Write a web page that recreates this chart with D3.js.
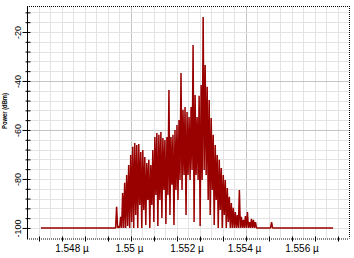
<!DOCTYPE html>
<html><head><meta charset="utf-8">
<script src="https://cdn.jsdelivr.net/npm/d3@7"></script>
<style>
html,body{margin:0;padding:0;background:#fff;}
text{font-family:"Liberation Sans",Arial,sans-serif;}
</style></head>
<body><svg id="c" width="354" height="258"></svg>
<script>
// ---- data ----
const xDomain = [1.546383, 1.557583];        // wavelength (µm)
const yDomain = [-104.3, -9.4];              // power (dBm)
const xLabelValues = [1.548, 1.550, 1.552, 1.554, 1.556];
const xLabels = ["1.548 µ", "1.55 µ", "1.552 µ", "1.554 µ", "1.556 µ"];
const yLabelValues = [-20, -40, -60, -80, -100];
const yLabels = ["-20", "-40", "-60", "-80", "-100"];
const yTitle = "Power (dBm)";
const baselineStart = 1.54687, baselineEnd = 1.55703, baselineDb = -100;
const lambdaStart = 1.5495, lambdaStep = 0.00007;
const peakDb = [
 -91.4,-99.2,-95.5,-85.7,-81.6,-78.4,-74.3,-70.2,-66.9,-65.3,
 -66.1,-65.7,-69.0,-68.2,-71.0,-73.5,-72.2,-74.3,-68.2,-62.9,
 -61.2,-62.0,-60.8,-63.3,-64.1,-62.9,-43.7,-62.9,-62.0,-60.0,
 -58.0,-55.9,-36.7,-51.8,-50.6,-52.7,-54.7,-50.6,-25.3,-45.7,
 -54.7,-46.0,-41.6,-13.9,-33.5,-42.4,-47.8,-55.1,-62.0,-66.1,
 -70.2,-72.2,-75.5,-78.4,-80.4,-83.7,-87.3,-89.8,-91.8,-93.5,
 -94.7,-84.5,-95.5,-96.7,-95.1,-93.5,-97.6,-96.3,-96.7,-97.6,
 -100,-100,-100,-100,-100,-100,-100,-97.6,-100,-100];
const troughDb = [
 -100,-100,-100,-100,-100,-99.2,-100,-97.6,-100,-94.7,
 -100,-90.6,-100,-92.7,-98.8,-88.6,-100,-90.6,-97.6,-86.5,
 -99.2,-88.6,-95.9,-84.5,-98.4,-86.5,-94.7,-82.4,-98.8,-84.5,
 -88.6,-80.4,-84.5,-78.4,-94.7,-78.4,-80.4,-76.3,-97.6,-78.4,
 -80.4,-99.2,-80.4,-76.3,-78.4,-88.6,-94.7,-84.5,-98.8,-88.6,
 -100,-92.7,-100,-94.7,-100,-97.6,-100,-100,-100,-100,
 -100,-100,-100,-100,-100,-100,-100,-100,-100,-100,
 -100,-100,-100,-100,-100,-100,-100,-100,-100,-100];
const gridStepX = 0.0004, tickStepX = 0.0008, gridStepY = 4;
const darkGridX = [1.550, 1.554];
const darkGridY = [-40, -60];

// ---- layout ----
const L = 27, R = 349, T = 6, B = 238.5;
const svg = d3.select("#c");
const x = d3.scaleLinear().domain(xDomain).range([L, R]);
const y = d3.scaleLinear().domain(yDomain).range([B, T]);

// grid
const gx = d3.range(Math.ceil(xDomain[0]/gridStepX), Math.floor(xDomain[1]/gridStepX)+1).map(k => k*gridStepX)
  .filter(v => x(v) > L + 1 && x(v) < R - 1);
const gy = d3.range(-100, -9, gridStepY);
const isDarkX = v => darkGridX.some(d => Math.abs(d - v) < 1e-7);
const grid = svg.append("g");
grid.selectAll("line.gx").data(gx).join("line")
  .attr("x1", d => Math.round(x(d)) + 0.5).attr("x2", d => Math.round(x(d)) + 0.5)
  .attr("y1", T).attr("y2", B)
  .attr("stroke", d => isDarkX(d) ? "#c4c4c4" : "#e3e3e3").attr("stroke-width", 1);
grid.selectAll("line.gy").data(gy).join("line")
  .attr("y1", d => Math.round(y(d)) + 0.5).attr("y2", d => Math.round(y(d)) + 0.5)
  .attr("x1", L).attr("x2", R)
  .attr("stroke", d => darkGridY.includes(d) ? "#c4c4c4" : "#e3e3e3").attr("stroke-width", 1);

// spectrum
const pts = [[baselineStart, baselineDb], [lambdaStart - lambdaStep/2, baselineDb]];
peakDb.forEach((p, i) => {
  const l = lambdaStart + i*lambdaStep;
  pts.push([l, p]);
  pts.push([l + lambdaStep/2, troughDb[i]]);
});
pts.push([baselineEnd, baselineDb]);
svg.append("path")
  .attr("d", d3.line().x(d => x(d[0])).y(d => y(d[1]))(pts))
  .attr("fill", "none").attr("stroke", "#990000").attr("stroke-width", 1.5)
  .attr("stroke-linejoin", "bevel");

// frame: top / right dotted
svg.append("line").attr("x1", L).attr("x2", R).attr("y1", T + 0.5).attr("y2", T + 0.5)
  .attr("stroke", "#000").attr("stroke-dasharray", "1,1");
svg.append("line").attr("x1", R + 0.5).attr("x2", R + 0.5).attr("y1", T).attr("y2", B)
  .attr("stroke", "#000").attr("stroke-dasharray", "1,1");

// bottom axis
const xTicks = d3.range(-8, 14).map(k => 1.550 + k*tickStepX).filter(v => x(v) > L + 4 && x(v) < R - 2);
const xAxisG = svg.append("g").attr("transform", `translate(0,${B})`)
  .call(d3.axisBottom(x).tickValues(xTicks).tickSize(3).tickFormat(""));
xAxisG.select(".domain").attr("stroke-dasharray", "1,1").attr("d", `M${L},0.5H${R}`);
xAxisG.selectAll(".tick line").attr("y1", -2).attr("y2", 3);
svg.append("g").selectAll("text").data(xLabelValues).join("text")
  .attr("x", d => x(d) - 1.5).attr("y", 251.5)
  .attr("text-anchor", "middle").attr("font-size", 10).attr("fill", "#000")
  .text((d, i) => xLabels[i]);

// left axis (minor ticks)
const yMinor = gy.filter(v => !yLabelValues.includes(v));
const yAxisMinor = svg.append("g").attr("transform", `translate(${L + 0.5},0)`)
  .call(d3.axisLeft(y).tickValues(yMinor).tickSize(2).tickFormat(""));
yAxisMinor.select(".domain").attr("d", `M0,${T}V${B + 0.5}`);
yAxisMinor.selectAll(".tick line").attr("x1", 3);
const yAxisMajor = svg.append("g").attr("transform", `translate(${L + 0.5},0)`)
  .call(d3.axisLeft(y).tickValues(yLabelValues).tickSize(5).tickFormat((d, i) => yLabels[i]));
yAxisMajor.select(".domain").remove();
yAxisMajor.selectAll(".tick line").attr("x1", 3);
yAxisMajor.selectAll(".tick text")
  .attr("x", 0).attr("dy", 0).attr("text-anchor", "middle")
  .attr("transform", "translate(-7,0) rotate(-90)")
  .attr("font-size", 9).attr("font-family", "Liberation Sans, Arial, sans-serif").attr("fill", "#000");

// y title
svg.append("text").attr("transform", "translate(7,111) rotate(-90)")
  .attr("text-anchor", "middle").attr("font-size", 8).attr("font-weight", "bold")
  .attr("textLength", 36).attr("lengthAdjust", "spacingAndGlyphs")
  .text(yTitle);
</script></body></html>
